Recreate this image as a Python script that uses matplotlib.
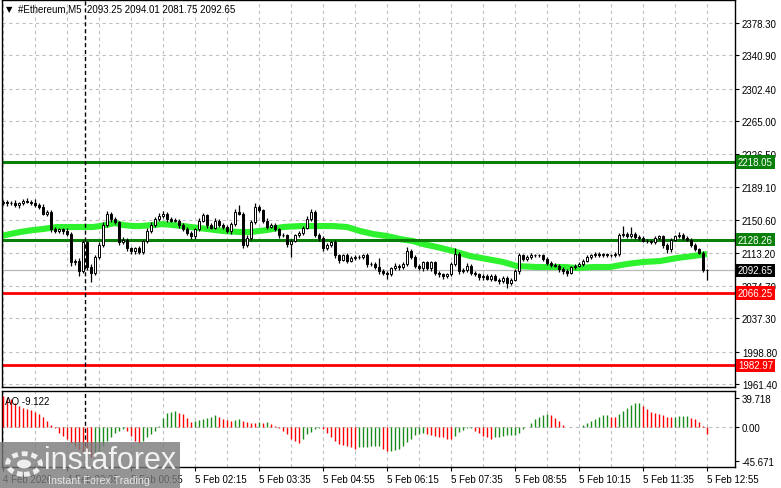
import matplotlib
matplotlib.use("Agg")
import matplotlib.pyplot as plt
from matplotlib.patches import Rectangle, Circle
import numpy as np

plt.rcParams["font.family"] = ["Liberation Sans", "DejaVu Sans"]

# ---- data ----
first_open = 2170.0
closes = [
    2172, 2170, 2171, 2168, 2170, 2173, 2172, 2171,
    2168, 2166, 2158, 2160, 2140, 2138, 2140, 2138,
    2135, 2102, 2104, 2092, 2125, 2097, 2090, 2108,
    2122, 2145, 2158, 2152, 2148, 2125, 2128, 2118,
    2115, 2118, 2114, 2126, 2138, 2145, 2152, 2155,
    2158, 2152, 2150, 2150, 2145, 2140, 2136, 2132,
    2140, 2150, 2156, 2145, 2142, 2150, 2145, 2143,
    2138, 2146, 2160, 2158, 2122, 2130, 2148, 2166,
    2162, 2150, 2143, 2145, 2140, 2133, 2133, 2123,
    2127, 2133, 2136, 2142, 2152, 2160, 2134, 2130,
    2118, 2122, 2125, 2110, 2105, 2110, 2104, 2107,
    2108, 2108, 2110, 2100, 2100, 2097, 2092, 2090,
    2088, 2095, 2098, 2096, 2100, 2115, 2108, 2098,
    2095, 2102, 2095, 2102, 2090, 2088, 2086, 2088,
    2100, 2112, 2092, 2093, 2098, 2090, 2088, 2085,
    2086, 2083, 2086, 2082, 2080, 2084, 2078, 2082,
    2092, 2110, 2106, 2108, 2110, 2110, 2110, 2106,
    2101, 2099, 2098, 2094, 2092, 2090, 2096, 2098,
    2100, 2104, 2108, 2110, 2112, 2110, 2111, 2110,
    2110, 2112, 2133, 2135, 2132, 2135, 2131, 2130,
    2127, 2126, 2125, 2130, 2132, 2122, 2117, 2128,
    2132, 2134, 2130, 2128, 2122, 2117, 2113, 2093.25, 2092.65,
]
wick_up = [
    2, 2, 2, 3, 2, 2, 3, 2,
    4, 2, 3, 2, 2, 3, 2, 2,
    3, 2, 2, 3, 3, 2, 3, 2,
    3, 3, 3, 2, 2, 2, 3, 2,
    2, 2, 3, 2, 3, 3, 2, 4,
    3, 2, 2, 3, 2, 2, 3, 2,
    2, 3, 3, 2, 2, 3, 2, 2,
    2, 2, 3, 8, 2, 3, 3, 4,
    2, 2, 3, 2, 2, 2, 3, 2,
    2, 2, 2, 2, 3, 3, 2, 2,
    2, 2, 2, 3, 2, 2, 3, 2,
    2, 2, 2, 3, 2, 2, 10, 2,
    2, 2, 3, 2, 2, 5, 2, 2,
    2, 2, 2, 2, 2, 2, 2, 2,
    2, 7, 2, 2, 3, 2, 2, 2,
    2, 2, 3, 2, 2, 2, 2, 2,
    2, 3, 2, 2, 3, 2, 2, 2,
    2, 2, 2, 2, 2, 2, 2, 2,
    2, 2, 2, 2, 2, 2, 2, 2,
    2, 2, 3, 9, 2, 8, 2, 2,
    2, 2, 2, 2, 2, 2, 2, 2,
    2, 3, 2, 2, 2, 2, 2, 2, 0.76,
]
wick_dn = [
    2, 3, 2, 2, 3, 2, 2, 3,
    2, 3, 2, 3, 3, 2, 2, 3,
    3, 4, 3, 6, 2, 4, 11, 3,
    2, 2, 2, 3, 2, 3, 2, 3,
    3, 3, 2, 2, 2, 2, 2, 2,
    2, 3, 2, 2, 3, 2, 3, 3,
    3, 2, 2, 3, 2, 2, 2, 3,
    2, 3, 2, 2, 4, 2, 2, 2,
    2, 3, 3, 2, 2, 3, 2, 3,
    15, 2, 2, 2, 2, 2, 3, 3,
    3, 2, 2, 3, 4, 2, 3, 2,
    2, 2, 2, 3, 2, 3, 3, 3,
    5, 2, 2, 3, 2, 2, 2, 3,
    2, 3, 2, 3, 3, 3, 3, 2,
    2, 2, 3, 2, 2, 3, 2, 3,
    3, 2, 3, 2, 3, 2, 6, 2,
    2, 4, 2, 2, 2, 2, 2, 2,
    2, 2, 2, 3, 3, 4, 2, 2,
    2, 2, 2, 2, 2, 2, 2, 2,
    2, 2, 3, 2, 2, 2, 2, 2,
    2, 2, 2, 2, 2, 3, 4, 3,
    2, 2, 2, 2, 2, 2, 2, 3, 10.9,
]

# moving average, sampled along the line (bar index, price)
ma_bar = [-0.5, 1.75, 4.25, 7.5, 10, 13.5, 16, 20, 22.5, 24.25, 26.75, 28, 30,
          32.5, 34.25, 40, 45, 51, 55, 59.25, 61.75, 66, 70, 74.25, 77.5, 82.5,
          86, 89.25, 92.5, 96, 99.25, 102.5, 105, 108.5, 112.5, 116.75, 121, 125,
          128.5, 133.5, 137.5, 140.5, 143.5, 147.5, 151.75, 156, 160, 164.25,
          168.5, 172.5, 176]
ma_val = [2132.3, 2134.6, 2136.9, 2139.2, 2140.4, 2142.7, 2142.7, 2142.7, 2142.7,
          2143.8, 2146.1, 2147.3, 2145.0, 2143.8, 2143.8, 2146.1, 2143.8, 2140.4,
          2138.1, 2136.9, 2136.9, 2139.2, 2142.7, 2143.8, 2143.8, 2143.8, 2142.7,
          2138.1, 2134.6, 2132.3, 2128.8, 2126.5, 2123.0, 2119.6, 2115.0, 2109.2,
          2105.7, 2102.3, 2097.6, 2096.5, 2096.5, 2096.5, 2095.3, 2096.5, 2096.5,
          2100.0, 2102.3, 2103.4, 2106.9, 2109.2, 2111.5]

ao = [
    41.9, 39.6, 37.4, 32.9, 28.4, 26.1, 24.8, 23.0,
    20.3, 17.1, 14.0, 8.1, 2.3, -0.9, -7.7, -12.2,
    -16.7, -21.2, -25.7, -30.2, -34.7, -39.2, -41.4, -38.3,
    -32.4, -25.7, -18.9, -13.1, -7.7, -5.4, -3.0, -5.4,
    -12.2, -18.9, -21.2, -18.9, -14.4, -9.9, -5.4, 1.4,
    12.6, 19.4, 20.7, 21.2, 19.4, 17.1, 12.6, 7.2,
    7.7, 9.5, 11.3, 12.6, 14.0, 15.8, 14.0, 11.3,
    9.5, 8.1, 9.0, 10.4, 8.1, 6.8, 5.9, 5.4,
    6.8, 5.0, 6.8, 4.5, 1.4, -0.9, -5.4, -9.9,
    -16.7, -18.9, -21.2, -16.7, -9.9, -6.8, -3.2, -0.9,
    -2.3, -7.7, -14.4, -18.9, -23.4, -24.8, -25.7, -27.9,
    -30.2, -27.9, -27.5, -27.0, -26.6, -26.1, -25.7, -30.2,
    -33.0, -32.4, -32.0, -30.2, -25.7, -20.3, -15.8, -11.3,
    -9.0, -7.7, -9.9, -11.3, -12.2, -13.1, -14.4, -15.8,
    -16.7, -12.2, -6.8, -4.1, -1.8, -0.9, -5.4, -8.6,
    -12.2, -14.4, -15.8, -14.4, -13.1, -12.2, -11.7, -11.3,
    -10.4, -7.7, -3.2, 0.2, 5.9, 11.3, 14.0, 15.8,
    17.1, 15.8, 12.6, 8.1, 2.3, 0.4, 0.1, -0.3,
    0.1, 2.3, 5.9, 8.1, 11.3, 14.0, 15.8, 16.2,
    14.0, 13.5, 17.1, 21.6, 26.1, 29.3, 32.0, 32.4,
    28.4, 23.9, 20.7, 19.4, 18.0, 16.2, 14.0, 13.5,
    14.0, 14.4, 14.5, 14.9, 12.6, 11.3, 6.8, 1.4, -9.122,
]

price_ticks = [2378.30, 2340.90, 2302.40, 2265.00, 2226.50, 2189.10, 2150.60,
               2113.20, 2074.70, 2037.30, 1998.80, 1961.40]
ao_ticks = [39.718, 0.0, -45.671]
ao_tick_labels = ["39.718", "0.00", "-45.671"]
time_labels = ["4 Feb 2026", "4 Feb 23:35", "5 Feb 00:55", "5 Feb 02:15",
               "5 Feb 03:35", "5 Feb 04:55", "5 Feb 06:15", "5 Feb 07:35",
               "5 Feb 08:55", "5 Feb 10:15", "5 Feb 11:35", "5 Feb 12:55"]
green_levels = [2218.05, 2128.26]
red_levels = [2066.25, 1982.97]
bid = 2092.65
day_sep_bar = 21

# ---- layout ----
W, H = 781, 489
fig = plt.figure(figsize=(W / 100, H / 100), dpi=100)
fig.patch.set_facecolor("white")


def fx(px):
    return px / W


def fy(py):
    return 1 - py / H


ax = fig.add_axes([fx(2), fy(388), fx(735) - fx(2), fy(0.5) - fy(388)])
ax2 = fig.add_axes([fx(2), fy(468), fx(735) - fx(2), fy(392) - fy(468)], sharex=ax)

FS = 7.0
GRID = dict(color="#c0c0c0", linestyle=(0, (3, 3)), linewidth=0.8)

# ---- candles ----
x = np.arange(len(closes))
c = np.array(closes, dtype=float)
o = np.r_[first_open, c[:-1]]
hi = np.maximum(o, c) + np.array(wick_up)
lo = np.minimum(o, c) - np.array(wick_dn)
up = c >= o
body = np.maximum(np.abs(c - o), 0.4)

ax.plot(ma_bar, ma_val, color="#2df22d", lw=4.4, solid_capstyle="butt", zorder=1.6)
ax.vlines(x, lo, hi, color="black", lw=0.9, zorder=2)
ax.bar(x[up], body[up], bottom=o[up], width=0.58, color="white",
       edgecolor="black", linewidth=0.7, zorder=3)
ax.bar(x[~up], body[~up], bottom=c[~up], width=0.58, color="black",
       edgecolor="black", linewidth=0.7, zorder=3)

# levels
ax.axhline(bid, color="#b8b8b8", lw=0.9, zorder=1.4)
for lv in green_levels:
    ax.axhline(lv, color="#0a800a", lw=2.2, zorder=1.7)
for lv in red_levels:
    ax.axhline(lv, color="#ff0000", lw=2.0, zorder=1.7)

ax.set_xlim(-0.25, 183)
ax.set_ylim(1957.9, 2405.5)
ax.yaxis.tick_right()
ax.set_yticks(price_ticks)
ax.set_yticklabels([f"{v:.2f}" for v in price_ticks])
ax.tick_params(axis="y", length=3, width=0.8, pad=2, labelsize=FS, colors="black")
ax.set_xticks(np.arange(0, 177, 16))
ax.set_xticks(np.arange(0, 184, 8), minor=True)
ax.tick_params(axis="x", which="both", bottom=False, labelbottom=False)
ax.grid(True, which="both", axis="x", **GRID)
ax.grid(True, which="major", axis="y", **GRID)
ax.set_axisbelow(True)

# right-side level tags
ytr = ax.get_yaxis_transform()
tags = [(green_levels[0], "#0a800a"), (green_levels[1], "#0a800a"),
        (bid, "black"), (red_levels[0], "#ff0000"), (red_levels[1], "#ff0000")]
for val, col in tags:
    ax.text(1.004, val, f"{val:.2f}", transform=ytr, ha="left", va="center",
            fontsize=FS, color="white", clip_on=False, zorder=10,
            bbox=dict(boxstyle="square,pad=0.18", fc=col, ec="none"))

# header
fig.text(fx(6), fy(10), "\u25bc", fontsize=6, family=["DejaVu Sans"], va="center")
fig.text(fx(18), fy(10), "#Ethereum,M5  2093.25 2094.01 2081.75 2092.65",
         fontsize=FS, va="center")

# ---- AO panel ----
ao_arr = np.array(ao)
ao_col = ["#ff0000"] + ["#1a8a1a" if ao_arr[i] > ao_arr[i - 1] else "#ff0000"
                        for i in range(1, len(ao_arr))]
ax2.vlines(x, 0, ao_arr, colors=ao_col, lw=1.0, zorder=3)
ax2.axhline(0, **GRID, zorder=1)
ax2.set_ylim(-54.4, 48.6)
ax2.yaxis.tick_right()
ax2.set_yticks(ao_ticks)
ax2.set_yticklabels(ao_tick_labels)
ax2.tick_params(axis="y", length=3, width=0.8, pad=2, labelsize=FS)
ax2.set_xticks(np.arange(0, 177, 16))
ax2.set_xticklabels(time_labels)
for lbl in ax2.get_xticklabels():
    lbl.set_horizontalalignment("left")
ax2.set_xticks(np.arange(0, 184, 8), minor=True)
ax2.tick_params(axis="x", which="major", length=3, width=0.8, pad=2, labelsize=FS)
ax2.tick_params(axis="x", which="minor", length=0)
ax2.grid(True, which="both", axis="x", **GRID)
ax2.set_axisbelow(True)
ax2.text(0.004, 0.93, "AO -9.122", transform=ax2.transAxes, fontsize=FS,
         ha="left", va="top")

for a in (ax, ax2):
    a.axvline(day_sep_bar - 0.5, color="black", lw=1, linestyle=(0, (3, 2)), zorder=2.5)
    for s in a.spines.values():
        s.set_color("black")
        s.set_linewidth(1)

# ---- watermark ----
fig.add_artist(Rectangle((0, 0), fx(180), fy(443), transform=fig.transFigure,
                         fc="#7a7a7a", ec="none", alpha=0.8, zorder=20))
fig.add_artist(Circle((fx(24), fy(465)), 0.021, transform=fig.transFigure,
                      fc="none", ec="#eeeeee", lw=3.5, linestyle=(0, (1.2, 0.8)),
                      zorder=21))
fig.add_artist(Circle((fx(24), fy(465)), 0.009, transform=fig.transFigure,
                      fc="#eeeeee", ec="none", zorder=21))
fig.text(fx(44), fy(461), "instaforex", fontsize=22, color="#f2f2f2",
         va="center", ha="left", zorder=22)
fig.text(fx(48), fy(481), "Instant Forex Trading", fontsize=7.7, color="#e8e8e8",
         va="center", ha="left", zorder=22)

fig.savefig("out.png", dpi=100)
